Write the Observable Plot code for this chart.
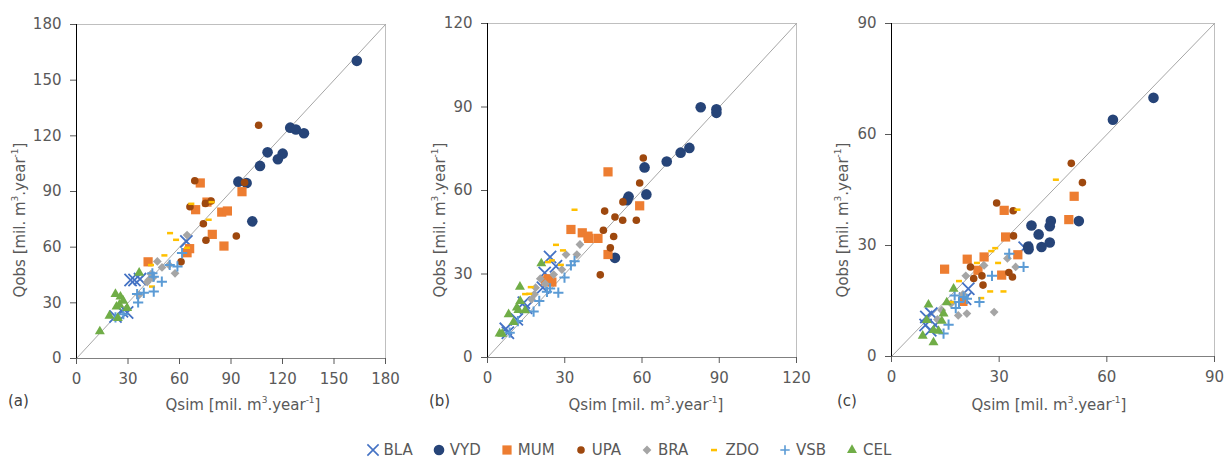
<!DOCTYPE html>
<html>
<head>
<meta charset="utf-8">
<script src="https://cdn.jsdelivr.net/npm/d3@7"></script>
<script src="https://cdn.jsdelivr.net/npm/@observablehq/plot@0.6"></script>
<style>
  body { margin: 0; background: #fff; }
  #chart { position: relative; width: 1226px; height: 458px; overflow: hidden;
           font-family: "DejaVu Sans", Verdana, sans-serif; color: #595959; }
  .panel { position: absolute; top: 0; }
  .xlab { position: absolute; font-size: 15px; white-space: nowrap; transform: translateX(-50%); line-height: 18px; }
  .ylab { position: absolute; font-size: 15px; white-space: nowrap; line-height: 18px;
          transform: translate(-50%, -50%) rotate(-90deg); }
  .xlab sup, .ylab sup { font-size: 9px; line-height: 0; vertical-align: 7px; }
  .tag { position: absolute; font-size: 15px; color: #404040; line-height: 18px; }
  #legend { position: absolute; left: 16px; width: 1226px; top: 441px; height: 18px;
            display: flex; justify-content: center; align-items: center; font-size: 15px; }
  #legend .item { display: flex; align-items: center; margin: 0 10px; }
  #legend svg { margin-right: 5px; overflow: visible; }
</style>
</head>
<body>
<div id="chart">
  <div id="legend"></div>
</div>
<script>
// Axis ticks for the three panels
const ticksA = [0, 30, 60, 90, 120, 150, 180];
const ticksB = [0, 30, 60, 90, 120];
const ticksC = [0, 30, 60, 90];

// Series names and colours
const seriesNames = ["BLA", "VYD", "MUM", "UPA", "BRA", "ZDO", "VSB", "CEL"];
const seriesColors = ["#4472C4", "#264478", "#ED7D31", "#9E480E", "#A5A5A5", "#FFC000", "#5B9BD5", "#70AD47"];

// Panel (a): [Qsim, Qobs] pairs
const aBLA = [[31.5,42.3],[33.8,42.3],[37,42.8],[64,63.1],[29.5,24.8],[26.5,25.5],[22.7,22.6]];
const aVYD = [[163.3,160.4],[124.5,124.4],[127.8,123.4],[132.5,121.4],[111.3,111.1],[120.1,110.4],[117.3,107.4],[106.9,103.8],[94.3,95.3],[99.1,94.6],[102.4,73.9]];
const aMUM = [[72.1,94.6],[96.4,89.9],[69.4,80.2],[76,84.3],[84.6,78.9],[87.9,79.5],[79.1,66.9],[85.9,60.6],[65.9,59.2],[64.4,57],[41.7,52.1]];
const aUPA = [[106.1,125.7],[68.9,95.8],[66.1,81.8],[75.1,83.6],[78.4,84.9],[73.9,72.6],[75.4,63.7],[93.1,66],[97.9,94.8],[60.9,52.1]];
const aBRA = [[64.4,66.5],[47.1,52.3],[49.8,49.1],[53.9,50.4],[57.4,45.9],[43.4,45.5],[42.1,42.3],[41.2,41.2],[36.5,34.3],[44.5,43.5]];
const aZDO = [[66.9,83.4],[77,74.8],[54.5,67.6],[58,64],[51.2,55.6],[78.7,84.3],[64.4,59.7],[43.4,50.4],[44,38.8]];
const aVSB = [[61.5,56.8],[58.8,49.6],[54.3,50.4],[49.7,41.4],[45,44.1],[45,36.1],[44.2,45.9],[39.2,35.4],[35.3,34.7],[35.9,30.2],[27.3,23.9],[22.7,22.1]];
const aCEL = [[36.5,46.2],[22.7,34.7],[25.6,33.3],[27.2,31.1],[23.3,27.9],[29.5,27.2],[25,29],[19.2,23],[24.1,21.8],[13.6,14.6]];

// Panel (b)
const bBLA = [[24.3,36.1],[26.6,32.8],[22.2,30.4],[21.5,25.1],[14.1,19.7],[15,17.9],[11.4,13.7],[7.1,10.3],[7.9,8.9]];
const bVYD = [[82.8,89.9],[88.9,89.2],[88.9,87.9],[78.4,75.3],[75,73.6],[69.6,70.4],[61,68.3],[61.7,58.6],[54.8,57.8],[54.2,56.5],[49.5,35.8]];
const bMUM = [[46.8,66.7],[59.1,54.5],[32.4,46],[36.8,44.8],[39,43.6],[39.3,42.8],[42.9,42.8],[46.8,37],[23.5,28.3],[22.5,27.5],[25,27.1]];
const bUPA = [[60.5,71.7],[59.1,62.7],[52.6,55.9],[45.5,52.6],[49.5,50.5],[52.5,49.3],[57.8,49.3],[45,45.7],[49,43.5],[47.7,39.4],[43.8,29.7]];
const bBRA = [[35.9,40.6],[34.7,37],[30.5,37],[28.9,31.6],[25.7,29.8],[20.5,28.3],[22.4,26.5],[18.7,25.1],[18.2,22.7],[17.1,20.9]];
const bZDO = [[33.8,53.1],[26.6,40.5],[29.3,38.5],[25,34.9],[23.5,34.3],[28.5,33.3],[16.8,25.3],[14.6,22.8],[16.2,22.9]];
const bVSB = [[33.8,34.6],[32.4,33.1],[29.9,28.7],[24.3,24.8],[23.1,23.6],[27.5,23.3],[20.1,20.3],[17.9,16.5],[11.8,13.1],[8.6,8.9]];
const bCEL = [[20.9,33.8],[12.6,25.4],[12.7,20.3],[11.4,17.9],[14.6,16.9],[8.2,15.5],[10.1,12.7],[4.7,8.6],[5.7,8.5],[12,17]];

// Panel (c)
const cBLA = [[37.1,29.4],[21.4,18.3],[20.5,15.6],[11.1,11.6],[9.7,10.7],[12.2,8.5],[9.5,8.5],[10.8,7.1]];
const cVYD = [[73,69.9],[61.7,64],[52.2,36.6],[44.4,36.6],[44.1,35.2],[39,35.4],[41,33],[38.1,29.7],[38.2,29],[41.8,29.6],[44.1,30.8]];
const cMUM = [[50.9,43.3],[49.4,37],[31.4,39.5],[31.8,32.3],[14.8,23.6],[21.1,26.3],[25.8,26.9],[24.1,23.3],[35.2,27.5],[30.7,22],[19.9,14.9]];
const cUPA = [[50.1,52.2],[53.2,47],[29.3,41.5],[33.9,39.4],[34,32.6],[22,24.2],[22.9,21.1],[25.2,21.8],[25.5,19.3],[32.7,22.7],[33.7,21.5]];
const cBRA = [[32.3,26.5],[34.6,24.2],[25.8,24.6],[20.7,21.8],[19.9,16.8],[28.6,12],[21,11.6],[18.6,11.1],[14,12.5],[12.8,10],[16.6,14.3]];
const cZDO = [[45.8,47.8],[35.1,39.7],[28.9,29.3],[27.8,28.5],[23.8,25.3],[29.7,25.3],[18.8,20.4],[27.5,17.6],[31.2,17.6],[25,15.8],[16.8,14.7]];
const cVSB = [[32.8,27.8],[36.8,24.2],[28,21.8],[17.6,16.5],[21,15.6],[24.5,14.7],[18.8,14.7],[17.9,13.1],[15.9,8.6],[14.5,6.2],[20.1,16.1]];
const cCEL = [[17.3,18.3],[10.3,14],[15.4,14.6],[14.5,11.6],[9.8,9.8],[14,9.6],[11.7,7.1],[13.1,6.9],[8.7,5.6],[11.7,3.8]];

// A short horizontal bar marker
const dash = {
  draw(context, size) {
    const s = Math.sqrt(size);
    context.rect(-s * 0.5, -s * 0.2, s, s * 0.42);
  }
};

// Marker style for each series (index matches seriesNames)
const markerStyles = [
  {symbol: "times", d3symbol: d3.symbolTimes, r: 5.6, stroked: true, width: 1.8},
  {symbol: "circle", d3symbol: d3.symbolCircle, r: 5.3},
  {symbol: "square", d3symbol: d3.symbolSquare, r: 5.2},
  {symbol: "circle", d3symbol: d3.symbolCircle, r: 3.8},
  {symbol: "square", d3symbol: d3.symbolSquare, r: 3.5, rotate: 45},
  {symbol: dash, d3symbol: dash, r: 3.4},
  {symbol: "plus", d3symbol: d3.symbolPlus, r: 3.4, stroked: true, width: 2},
  {symbol: "triangle", d3symbol: d3.symbolTriangle, r: 3.7}
];

const panels = [
  {tag: "(a)", ticks: ticksA, data: [aBLA, aVYD, aMUM, aUPA, aBRA, aZDO, aVSB, aCEL],
   left: 0, marginLeft: 76, marginTop: 24, innerW: 309, innerH: 334, xlab: 243, ylab: 20, tagX: 8},
  {tag: "(b)", ticks: ticksB, data: [bBLA, bVYD, bMUM, bUPA, bBRA, bZDO, bVSB, bCEL],
   left: 410, marginLeft: 77, marginTop: 23, innerW: 309, innerH: 334, xlab: 646, ylab: 440, tagX: 429},
  {tag: "(c)", ticks: ticksC, data: [cBLA, cVYD, cMUM, cUPA, cBRA, cZDO, cVSB, cCEL],
   left: 820, marginLeft: 71, marginTop: 23, innerW: 323, innerH: 333, xlab: 1049, ylab: 843, tagX: 837}
];

const chart = document.getElementById("chart");
const axisTitle = (name) => `${name} [mil. m<sup>3</sup>.year<sup>-1</sup>]`;

for (const p of panels) {
  const domain = [0, p.ticks[p.ticks.length - 1]];
  const marginRight = 12;
  const marginBottom = 425 - p.marginTop - p.innerH;
  const marks = [
    Plot.frame({stroke: "#bfbfbf"}),
    Plot.line(domain.map((v) => [v, v]), {stroke: "#a6a6a6", strokeWidth: 1}),
    Plot.ruleY([0], {stroke: "#808080"}),
    Plot.ruleX([0], {stroke: "#000"}),
    Plot.axisX({ticks: p.ticks, tickSize: 6, tickPadding: 9, label: null}),
    Plot.axisY({ticks: p.ticks, tickSize: 6, tickPadding: 9, label: null})
  ];
  seriesNames.forEach((name, i) => {
    const m = markerStyles[i];
    const color = seriesColors[i];
    const opts = {x: (d) => d[0], y: (d) => d[1], symbol: m.symbol, r: m.r};
    if (m.stroked) Object.assign(opts, {stroke: color, strokeWidth: m.width, fill: "none"});
    else Object.assign(opts, {fill: color, stroke: "none"});
    if (m.rotate) opts.rotate = m.rotate;
    marks.push(Plot.dot(p.data[i], opts));
  });
  const svg = Plot.plot({
    width: p.marginLeft + p.innerW + marginRight,
    height: 425,
    marginLeft: p.marginLeft,
    marginTop: p.marginTop,
    marginRight,
    marginBottom,
    x: {domain, label: null},
    y: {domain, label: null},
    style: {fontFamily: "DejaVu Sans, Verdana, sans-serif", fontSize: "15px", color: "#595959", background: "transparent", overflow: "visible"},
    marks
  });
  svg.classList.add("panel");
  svg.style.left = p.left + "px";
  chart.appendChild(svg);

  const xl = document.createElement("div");
  xl.className = "xlab";
  xl.innerHTML = axisTitle("Qsim");
  xl.style.left = p.xlab + "px";
  xl.style.top = "396px";
  chart.appendChild(xl);

  const yl = document.createElement("div");
  yl.className = "ylab";
  yl.innerHTML = axisTitle("Qobs");
  yl.style.left = p.ylab + "px";
  yl.style.top = "220px";
  chart.appendChild(yl);

  const tg = document.createElement("div");
  tg.className = "tag";
  tg.textContent = p.tag;
  tg.style.left = p.tagX + "px";
  tg.style.top = "392px";
  chart.appendChild(tg);
}

// Legend
const legend = d3.select("#legend");
seriesNames.forEach((name, i) => {
  const m = markerStyles[i];
  const color = seriesColors[i];
  const item = legend.append("div").attr("class", "item");
  const s = item.append("svg").attr("width", 12).attr("height", 14);
  const size = Math.PI * m.r * m.r * (m.stroked ? 0.85 : 1);
  s.append("path")
    .attr("transform", `translate(6,7)${m.rotate ? ` rotate(${m.rotate})` : ""}`)
    .attr("d", d3.symbol(m.d3symbol, size)())
    .attr("fill", m.stroked ? "none" : color)
    .attr("stroke", m.stroked ? color : "none")
    .attr("stroke-width", m.stroked ? 1.6 : 0);
  item.append("span").text(name);
});
</script>
</body>
</html>
